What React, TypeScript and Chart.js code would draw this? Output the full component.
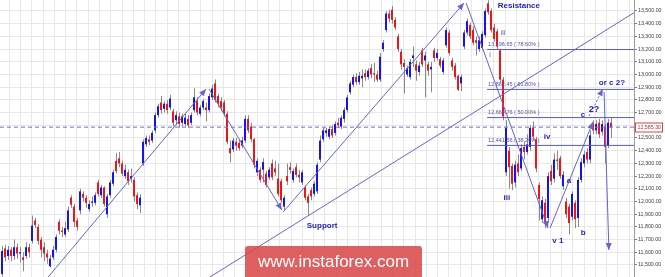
import React, { useEffect, useRef } from "react";
import { Chart, registerables } from "chart.js";

Chart.register(...registerables);

const FONT = '"Liberation Sans", Arial, sans-serif';

// Session OHLC, oldest first
const opens = [
  11430, 11630, 11570, 11620, 11570, 11640, 11590, 11560, 11570, 11640,
  11690, 11850, 11800, 11700, 11640, 11590, 11490, 11560, 11620, 11840,
  11770, 11740, 11780, 12030, 11960, 11850, 11930, 12060, 12030, 11940,
  11990, 11990, 12150, 12050, 12110, 11900, 12050, 12140, 12320, 12340,
  12300, 12200, 12230, 12180, 12170, 12050, 11970, 12300, 12450, 12490,
  12480, 12560, 12680, 12780, 12730, 12770, 12740, 12710, 12640, 12670,
  12620, 12610, 12650, 12620, 12720, 12790, 12690, 12740, 12740, 12720,
  12820, 12930, 12830, 12790, 12780, 12690, 12420, 12410, 12470, 12460,
  12440, 12480, 12650, 12590, 12490, 12230, 12250, 12250, 12220, 12190,
  12300, 12260, 12180, 12160, 11960, 12200, 12270, 12170, 12270, 12210,
  12150, 12110, 12040, 12090, 12060, 12080, 12330, 12490, 12540, 12510,
  12570, 12540, 12620, 12590, 12650, 12720, 12860, 12920, 12980, 12940,
  12970, 13010, 12980, 13050, 13010, 13000, 12960, 13200, 13350, 13480,
  13510, 13430, 13300, 13180, 13090, 13000, 12980, 13130, 13080, 13020,
  13190, 13110, 13080, 13040, 13190, 13130, 13120, 13020, 13230, 13330,
  13110, 13070, 12990, 12930, 13220, 13330, 13390, 13350, 13270, 13200,
  13210, 13310, 13560, 13500, 13370, 13340, 13190, 12960, 12230, 12400,
  12280, 12150, 12300, 12260, 12430, 12390, 12430, 12580, 12490, 12130,
  11860, 11990, 11870, 12240, 12180, 12330, 12340, 12120, 12000, 11960,
  11880, 11990, 11870, 12170, 12300, 12390, 12330, 12610, 12560, 12620,
  12550, 12590, 12440, 12620,
];
const highs = [
  11650, 11660, 11650, 11640, 11700, 11670, 11640, 11600, 11680, 11670,
  11890, 11870, 11820, 11720, 11680, 11620, 11580, 11650, 11740, 11860,
  11800, 11840, 11960, 12050, 11980, 11870, 12100, 12080, 12050, 12010,
  12040, 12070, 12170, 12130, 12120, 12060, 12170, 12250, 12380, 12390,
  12320, 12290, 12250, 12260, 12190, 12070, 12060, 12490, 12520, 12520,
  12560, 12700, 12770, 12830, 12790, 12800, 12840, 12730, 12710, 12700,
  12690, 12690, 12680, 12700, 12890, 12820, 12760, 12810, 12780, 12850,
  12920, 12960, 12850, 12820, 12800, 12710, 12480, 12500, 12500, 12490,
  12510, 12680, 12680, 12620, 12500, 12340, 12270, 12340, 12240, 12270,
  12330, 12320, 12300, 12180, 12050, 12300, 12310, 12260, 12300, 12250,
  12250, 12130, 12060, 12110, 12160, 12310, 12520, 12580, 12580, 12590,
  12600, 12630, 12660, 12680, 12740, 12840, 12950, 13000, 13010, 13020,
  13040, 13040, 13050, 13080, 13090, 13030, 13170, 13270, 13500, 13510,
  13540, 13450, 13320, 13200, 13120, 13070, 13120, 13220, 13110, 13100,
  13210, 13180, 13100, 13100, 13210, 13200, 13140, 13130, 13370, 13350,
  13130, 13090, 13000, 13000, 13350, 13440, 13410, 13380, 13300, 13300,
  13340, 13520, 13585, 13520, 13400, 13360, 13200, 12980, 12640, 12430,
  12300, 12320, 12370, 12450, 12470, 12530, 12600, 12630, 12510, 12150,
  12040, 12020, 12230, 12290, 12380, 12400, 12360, 12240, 12030, 11980,
  12080, 12010, 12190, 12340, 12400, 12420, 12560, 12640, 12640, 12650,
  12640, 12610, 12650, 12660,
];
const lows = [
  11410, 11530, 11540, 11530, 11540, 11550, 11520, 11450, 11550, 11560,
  11670, 11790, 11660, 11560, 11530, 11510, 11480, 11540, 11600, 11740,
  11720, 11720, 11760, 11950, 11800, 11770, 11900, 12000, 11950, 11920,
  11960, 11970, 12040, 12030, 11960, 11870, 12030, 12120, 12220, 12270,
  12200, 12180, 12130, 12150, 12000, 11940, 11910, 12280, 12430, 12440,
  12460, 12540, 12660, 12690, 12700, 12690, 12720, 12590, 12600, 12580,
  12590, 12590, 12580, 12600, 12700, 12680, 12670, 12720, 12630, 12700,
  12800, 12780, 12740, 12710, 12670, 12450, 12310, 12390, 12400, 12400,
  12420, 12460, 12540, 12470, 12260, 12200, 12150, 12150, 12110, 12170,
  12170, 12200, 12040, 11990, 11930, 12130, 12220, 12150, 12190, 12150,
  12130, 12010, 11885, 12010, 12040, 12060, 12310, 12470, 12510, 12490,
  12500, 12520, 12580, 12570, 12620, 12700, 12840, 12900, 12920, 12920,
  12900, 12950, 12960, 12970, 12940, 12940, 12940, 13180, 13330, 13410,
  13400, 13350, 13180, 13040, 12850, 12980, 12960, 13060, 12950, 12990,
  13060, 12820, 12990, 12860, 13100, 13110, 13050, 13000, 13210, 13150,
  13030, 12960, 12870, 12870, 13200, 13310, 13280, 13230, 13150, 13180,
  13190, 13290, 13470, 13330, 13260, 13200, 12940, 12640, 12200, 12100,
  12090, 12110, 12200, 12240, 12330, 12370, 12400, 12480, 12230, 11850,
  11830, 11790, 11830, 12130, 12150, 12250, 12180, 12090, 11870, 11740,
  11850, 11790, 11800, 12150, 12270, 12300, 12300, 12530, 12530, 12500,
  12520, 12300, 12420, 12500,
];
const closes = [
  11610, 11560, 11620, 11570, 11640, 11590, 11600, 11540, 11640, 11600,
  11810, 11815, 11690, 11620, 11590, 11560, 11550, 11620, 11720, 11770,
  11760, 11790, 11930, 11975, 11840, 11800, 12080, 12030, 11990, 11980,
  12000, 12050, 12060, 12110, 11980, 12040, 12150, 12230, 12240, 12300,
  12220, 12250, 12160, 12200, 12040, 11980, 12030, 12470, 12500, 12470,
  12540, 12680, 12750, 12720, 12770, 12720, 12810, 12620, 12680, 12610,
  12670, 12660, 12600, 12680, 12820, 12700, 12740, 12790, 12720, 12830,
  12890, 12800, 12770, 12740, 12690, 12470, 12380, 12480, 12440, 12420,
  12480, 12650, 12560, 12490, 12290, 12320, 12170, 12310, 12130, 12250,
  12190, 12230, 12060, 12010, 12030, 12160, 12250, 12240, 12210, 12190,
  12230, 12030, 11990, 12040, 12140, 12290, 12480, 12560, 12560, 12570,
  12520, 12610, 12600, 12660, 12720, 12820, 12930, 12980, 12940, 12990,
  12990, 12980, 13030, 13000, 13000, 12960, 13140, 13250, 13480, 13440,
  13430, 13370, 13200, 13080, 13060, 13050, 13100, 13150, 13030, 13070,
  13080, 13150, 13030, 13060, 13130, 13170, 13070, 13110, 13350, 13170,
  13060, 12980, 12880, 12980, 13330, 13420, 13300, 13250, 13250, 13270,
  13320, 13500, 13490, 13350, 13280, 13220, 12960, 12670, 12580, 12270,
  12140, 12290, 12230, 12420, 12390, 12450, 12580, 12510, 12260, 12020,
  12010, 11840, 12200, 12160, 12330, 12320, 12200, 12210, 11900, 11830,
  12060, 11860, 12170, 12310, 12370, 12330, 12520, 12560, 12610, 12530,
  12610, 12430, 12620, 12585.3,
];

// Right-hand price axis
const priceTicks = [
  11500, 11600, 11700, 11800, 11900, 12000, 12100, 12200, 12300, 12400, 12500,
  12600, 12700, 12800, 12900, 13000, 13100, 13200, 13300, 13400, 13500,
];
const PRICE_MIN = 11405.5;
const PRICE_MAX = 13586.6;
const lastPrice = 12585.3;

// Fibonacci retracement levels
const fibPrices = [13196.65, 12882.45, 12660.76, 12441.56];
const fibPercents = ["78.60%", "61.80%", "50.00%", "38.20%"];
const fibStart = 161.7;

// Session index range of the time axis
const X_MIN = -2 / 3;
const X_MAX = 210.667;

// Wave count legs: [session index, price] pairs, each ending in an arrow
const waveLegs = [
  [[13.7, 11358], [68.0, 12886]],
  [[69.0, 12886], [93.3, 11933]],
  [[93.7, 11917], [154.0, 13563]],
  [[154.7, 13563], [182.0, 11791]],
  [[182.7, 11791], [197.0, 12626]],
  [[200.7, 12862], [202.3, 11618]],
];
const alternateLeg = [[195.7, 12673], [200.3, 12886]];
const supportLine = [[66.1, 11358], [210.7, 13487]];

const waveLabels = [
  { text: "Resistance", at: 172.3, price: 13539, size: 8, bold: true },
  { text: "Support", at: 106.7, price: 11807, size: 8, bold: true },
  { text: "iii", at: 167.0, price: 13327, size: 7, bold: false },
  { text: "i", at: 162.7, price: 13154, size: 7, bold: false },
  { text: "iii", at: 168.3, price: 12028, size: 8, bold: true },
  { text: "iv", at: 181.7, price: 12508, size: 8, bold: true },
  { text: "v 1", at: 185.3, price: 11689, size: 8, bold: true },
  { text: "a", at: 189.0, price: 12161, size: 8, bold: true },
  { text: "b", at: 193.7, price: 11752, size: 8, bold: true },
  { text: "c", at: 193.7, price: 12681, size: 8, bold: true },
  { text: "2?", at: 197.3, price: 12728, size: 9, bold: true },
  { text: "or c 2?", at: 203.3, price: 12933, size: 8, bold: true },
];

const LINE_COLOR = "#6464d4";
const FIB_COLOR = "#5a5ac6";
const UP = "#1414f0";
const DOWN = "#f01414";
const FLAT = "#909090";

const fmt = (v: number) =>
  v.toLocaleString("en-US", { minimumFractionDigits: 2, maximumFractionDigits: 2 });

function arrowHead(ctx: CanvasRenderingContext2D, x0: number, y0: number, x1: number, y1: number, color: string) {
  const ang = Math.atan2(y1 - y0, x1 - x0);
  const len = 7;
  const hw = 3;
  const bx = x1 - len * Math.cos(ang);
  const by = y1 - len * Math.sin(ang);
  ctx.beginPath();
  ctx.moveTo(x1, y1);
  ctx.lineTo(bx - hw * Math.sin(ang), by + hw * Math.cos(ang));
  ctx.lineTo(bx + hw * Math.sin(ang), by - hw * Math.cos(ang));
  ctx.closePath();
  ctx.fillStyle = color;
  ctx.fill();
}

const overlayPlugin = {
  id: "waveOverlay",
  afterDatasetsDraw(chart: any) {
    const { ctx, scales } = chart;
    const xs = scales.x;
    const ys = scales.y;
    ctx.save();
    chart.data.datasets.forEach((ds: any, di: number) => {
      if (!ds.arrowHead) return;
      const pts = chart.getDatasetMeta(di).data;
      const a = pts[pts.length - 2];
      const b = pts[pts.length - 1];
      arrowHead(ctx, a.x, a.y, b.x, b.y, ds.borderColor);
    });

    ctx.font = `5.5px ${FONT}`;
    ctx.fillStyle = "#5252b0";
    ctx.textAlign = "left";
    ctx.textBaseline = "middle";
    fibPrices.forEach((p, k) => {
      ctx.fillText(`${fmt(p)} ( ${fibPercents[k]} )`, xs.getPixelForValue(fibStart) + 1, ys.getPixelForValue(p) - 5);
    });

    ctx.textAlign = "center";
    waveLabels.forEach((l) => {
      ctx.font = `${l.bold ? "bold " : ""}${l.size}px ${FONT}`;
      ctx.fillStyle = l.bold ? "#2424c8" : "#5a5aa8";
      ctx.fillText(l.text, xs.getPixelForValue(l.at), ys.getPixelForValue(l.price));
    });
    ctx.restore();
  },
  afterDraw(chart: any) {
    const { ctx, chartArea, scales } = chart;
    const ys = scales.y;
    ctx.save();
    // last price tag on the axis
    const py = Math.round(ys.getPixelForValue(lastPrice)) + 0.5;
    const left = chartArea.right + 1.5;
    ctx.fillStyle = "#ffffff";
    ctx.fillRect(left, py - 4.5, 27, 9);
    ctx.strokeStyle = "#e04040";
    ctx.lineWidth = 1;
    ctx.strokeRect(left, py - 4.5, 27, 9);
    ctx.font = `5.3px ${FONT}`;
    ctx.fillStyle = "#a03838";
    ctx.textAlign = "left";
    ctx.textBaseline = "middle";
    ctx.fillText(fmt(lastPrice), left + 2, py);

    // site watermark
    ctx.fillStyle = "rgba(218, 70, 70, 0.86)";
    ctx.beginPath();
    ctx.roundRect(245, 246, 177, 40, 3);
    ctx.fill();
    ctx.font = `17px ${FONT}`;
    ctx.fillStyle = "#ffffff";
    ctx.textAlign = "center";
    ctx.fillText("www.instaforex.com", 333.5, 262.5);
    ctx.restore();
  },
};

function lineSet(points: number[][], opts: any = {}) {
  return {
    type: "line",
    data: points.map(([x, y]) => ({ x, y })),
    borderColor: LINE_COLOR,
    borderWidth: 1,
    pointRadius: 0,
    tension: 0,
    fill: false,
    xAxisID: "x",
    yAxisID: "y",
    order: 1,
    ...opts,
  };
}

export default function App() {
  const canvasRef = useRef<HTMLCanvasElement | null>(null);

  useEffect(() => {
    const canvas = canvasRef.current;
    if (!canvas) return;

    const bodyColors = opens.map((o, i) => (closes[i] > o ? UP : closes[i] < o ? DOWN : FLAT));

    const datasets: any[] = [
      {
        type: "bar",
        data: opens.map((_, i) => ({ x: i, y: [lows[i], highs[i]] })),
        backgroundColor: "#8a8a8a",
        borderWidth: 0,
        grouped: false,
        maxBarThickness: 1,
        inflateAmount: 0,
        xAxisID: "xw",
        yAxisID: "y",
        order: 3,
      },
      {
        type: "bar",
        data: opens.map((o, i) => ({ x: i, y: [o, closes[i]] })),
        backgroundColor: bodyColors,
        borderWidth: 0,
        grouped: false,
        maxBarThickness: 2,
        minBarLength: 1,
        inflateAmount: 0,
        xAxisID: "x",
        yAxisID: "y",
        order: 2,
      },
      ...fibPrices.map((p) =>
        lineSet([[fibStart, p], [X_MAX, p]], { borderColor: FIB_COLOR })
      ),
      lineSet([[X_MIN, lastPrice], [X_MAX, lastPrice]], { borderColor: "#7070d8", borderDash: [4, 3] }),
      lineSet(supportLine),
      ...waveLegs.map((leg) => lineSet(leg, { arrowHead: true })),
      lineSet(alternateLeg, { arrowHead: true, borderDash: [2, 2] }),
    ];

    const chart = new Chart(canvas, {
      type: "line",
      data: { datasets },
      options: {
        animation: false,
        responsive: false,
        events: [],
        layout: { padding: 0 },
        plugins: { legend: { display: false }, tooltip: { enabled: false } },
        scales: {
          x: { type: "linear", display: false, offset: false, grid: { offset: false }, min: X_MIN, max: X_MAX },
          xw: {
            type: "linear",
            display: false,
            offset: false,
            grid: { offset: false },
            min: X_MIN - 1 / 6,
            max: X_MAX - 1 / 6,
          },
          xg: {
            type: "linear",
            position: "bottom",
            offset: false,
            min: -0.8252,
            max: 55.43,
            afterBuildTicks: (s: any) => {
              s.ticks = Array.from({ length: 56 }, (_, k) => ({ value: k }));
            },
            afterFit: (s: any) => {
              s.height = 0;
              s.paddingLeft = 0;
              s.paddingRight = 0;
            },
            ticks: { display: false },
            grid: { color: "#e7e7e7", drawTicks: false, offset: false },
            border: { display: false },
          },
          y: {
            type: "linear",
            position: "right",
            min: PRICE_MIN,
            max: PRICE_MAX,
            afterBuildTicks: (s: any) => {
              s.ticks = priceTicks.map((v) => ({ value: v }));
            },
            afterFit: (s: any) => {
              s.width = 31;
              s.paddingTop = 0;
              s.paddingBottom = 0;
            },
            ticks: {
              autoSkip: false,
              padding: 1,
              color: "#3c3c3c",
              font: { size: 5.3, family: FONT },
              callback: (v: any) => fmt(Number(v)),
            },
            grid: { color: "#e7e7e7", tickColor: "#777777", tickLength: 3 },
            border: { display: true, color: "#9a9a9a" },
          },
        },
      } as any,
      plugins: [overlayPlugin],
    } as any);

    return () => chart.destroy();
  }, []);

  return (
    <div style={{ position: "absolute", left: 0, top: 0, width: 665, height: 277, background: "#ffffff" }}>
      <canvas ref={canvasRef} width={665} height={277} style={{ display: "block" }} />
    </div>
  );
}
